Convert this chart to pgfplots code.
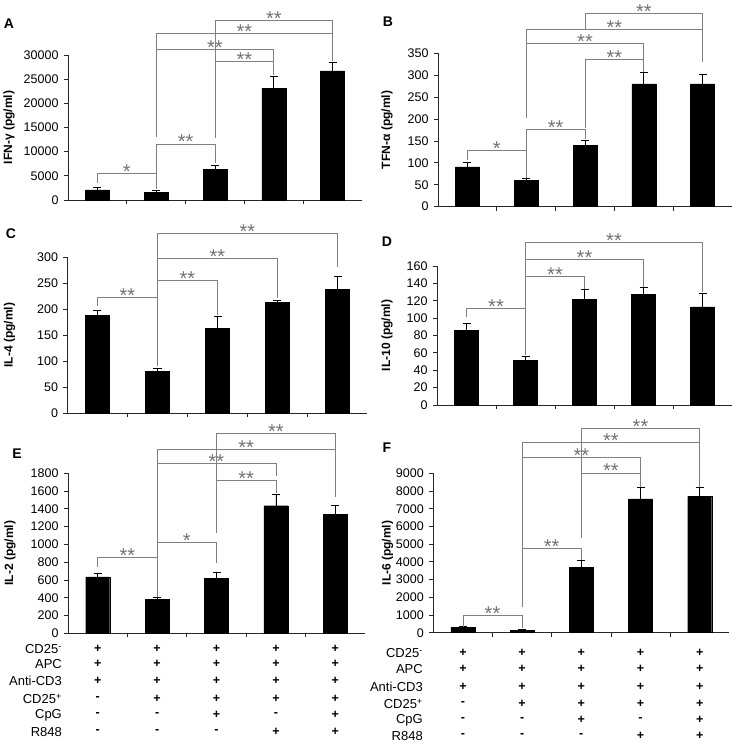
\documentclass[border=0pt]{standalone}
\usepackage{pgfplots}
\pgfplotsset{compat=1.18}
\usepackage{pgfplotstable}
\usepackage{fontspec}
\setmainfont{Liberation Sans}

\pgfplotstableread{
x y e
0 2100 450
1 1600 350
2 6400 750
3 23100 2450
4 26700 1800
}\tA
\pgfplotstableread{
x y e
0 91 10
1 60 4
2 140 12
3 280 26
4 280 23
}\tB
\pgfplotstableread{
x y e
0 188 10
1 80 6
2 163 23
3 213 4
4 238 25
}\tC
\pgfplotstableread{
x y e
0 86 8
1 51 4.5
2 122 11
3 127 8
4 113 16
}\tD
\pgfplotstableread{
x y e
0 635 40
1 380 25
2 615 75
3 1435 130
4 1340 105
}\tE
\pgfplotstableread{
x y e
0 300 40
1 150 40
2 3700 410
3 7550 630
4 7700 500
}\tF

\tikzset{
  brk/.style={draw=black!50, line width=0.7pt},
  star/.style={text=black!55, anchor=base, font=\fontsize{20}{20}\selectfont, inner sep=0pt, yshift=-5pt},
  rowlab/.style={anchor=east, font=\fontsize{13}{14}\selectfont, inner sep=0pt},
  sgn/.style={anchor=center, font=\fontsize{12.5}{14}\selectfont\bfseries, inner sep=0pt},
  letter/.style={font=\fontsize{14}{16}\selectfont\bfseries, inner sep=0pt},
}
\newcommand{\brk}[7]{%
  \draw[brk] (axis cs:#1,#4) -- (axis cs:#1,#3) -- (axis cs:#2,#3) -- (axis cs:#2,#5);
  \node[star] at (axis cs:#7,#3) {#6};}
\newcommand{\trow}[8]{%
  \node[rowlab] at (axis cs:#1,#2) {#3};
  \node[sgn] at (axis cs:0,#2) {#4};
  \node[sgn] at (axis cs:1,#2) {#5};
  \node[sgn] at (axis cs:2,#2) {#6};
  \node[sgn] at (axis cs:3,#2) {#7};
  \node[sgn] at (axis cs:4,#2) {#8};}

\pgfplotsset{
  panel/.style={
    scale only axis, anchor=south west,
    axis x line=bottom, axis y line=left,
    axis line style={-, black!85, line width=0.8pt},
    xmin=-0.5, xmax=4.5, ymin=0,
    xtick={0.5,1.5,2.5,3.5}, xticklabels={},
    tick align=outside, major tick length=4pt,
    tick style={black!85, line width=0.8pt},
    scaled y ticks=false,
    /pgf/number format/1000 sep={},
    /pgf/number format/assume math mode=true,
    tick label style={font=\fontsize{12.5}{14}\selectfont},
    yticklabel style={xshift=-2pt},
    every axis y label/.style={at={(axis description cs:#1,0.5)}, rotate=90, anchor=center, font=\fontsize{12}{14}\selectfont\bfseries},
    clip=false,
    ybar, bar width=24pt,
  },
  bars/.style={fill=black, draw=black, error bars/.cd, y dir=plus, y explicit,
    error bar style={black, line width=0.7pt},
    error mark options={rotate=90, mark size=4pt, line width=0.7pt, black}},
}

\begin{document}
\begin{tikzpicture}[x=1pt,y=1pt]
\path[use as bounding box] (0,0) rectangle (736,746);

% ---------- A ----------
\begin{axis}[panel=-0.2007, at={(68pt,546pt)}, width=294pt, height=145pt,
  ymax=30000, ytick={0,5000,...,30000}, ylabel={IFN-γ (pg/ml)}]
\addplot[bars] table[x=x,y=y,y error=e] {\tA};
\brk{0}{1}{5450}{3500}{2300}{*}{0.5}
\brk{1}{2}{11600}{5450}{7600}{**}{1.5}
\brk{2}{3}{28700}{12900}{25900}{**}{2.5}
\brk{1}{3}{31200}{13100}{28700}{**}{2}
\brk{1}{4}{34500}{31200}{28700}{**}{2.5}
\brk{2}{4}{37200}{28700}{34500}{**}{3}
\end{axis}

% ---------- B ----------
\begin{axis}[panel=-0.1735, at={(438pt,539.3pt)}, width=294pt, height=153.4pt,
  ymax=350, ytick={0,50,...,350}, ylabel={TFN-α (pg/ml)}]
\addplot[bars] table[x=x,y=y,y error=e] {\tB};
\brk{0}{1}{129}{106}{66}{*}{0.5}
\brk{1}{2}{176}{129}{154}{**}{1.5}
\brk{2}{3}{336}{179}{308}{**}{2.5}
\brk{1}{3}{373}{202}{336}{**}{2}
\brk{1}{4}{405}{373}{329}{**}{2.5}
\brk{2}{4}{440}{405}{405}{**}{3}
\end{axis}

% ---------- C ----------
\begin{axis}[panel=-0.193, at={(67.5pt,332.7pt)}, width=300pt, height=156pt,
  ymax=300, ytick={0,50,...,300}, ylabel={IL-4 (pg/ml)}]
\addplot[bars] table[x=x,y=y,y error=e] {\tC};
\brk{0}{1}{223}{206}{90}{**}{0.5}
\brk{1}{2}{256}{223}{189}{**}{1.5}
\brk{1}{3}{298}{256}{221}{**}{2}
\brk{1}{4}{346}{298}{282}{**}{2.5}
\end{axis}

% ---------- D ----------
\begin{axis}[panel=-0.1695, at={(437pt,341pt)}, width=295pt, height=139pt,
  ymax=160, ytick={0,20,...,160}, ylabel={IL-10 (pg/ml)}]
\addplot[bars] table[x=x,y=y,y error=e] {\tD};
\brk{0}{1}{111}{101.7}{57.5}{**}{0.5}
\brk{1}{2}{147.7}{111}{134}{**}{1.5}
\brk{1}{3}{167.7}{147.7}{136}{**}{2}
\brk{1}{4}{186.9}{167.7}{130.5}{**}{2.5}
\end{axis}

% ---------- E ----------
\begin{axis}[panel=-0.195, at={(68pt,112.7pt)}, width=297pt, height=160pt,
  ymax=1800, ytick={0,200,...,1800}, ylabel={IL-2 (pg/ml)}]
\addplot[bars] table[x=x,y=y,y error=e] {\tE};
\brk{0}{1}{851}{750}{410}{**}{0.5}
\brk{1}{2}{1024}{851}{787}{*}{1.5}
\brk{2}{3}{1717}{1125}{1575}{**}{2.5}
\brk{1}{3}{1912}{1024}{1770}{**}{2}
\brk{1}{4}{2070}{1912}{1530}{**}{2.5}
\brk{2}{4}{2250}{1717}{2070}{**}{3}
\trow{-0.6}{-177}{CD25\textsuperscript{-}}{+}{+}{+}{+}{+}
\trow{-0.6}{-345}{APC}{+}{+}{+}{+}{+}
\trow{-0.6}{-537}{Anti-CD3}{+}{+}{+}{+}{+}
\trow{-0.6}{-739}{CD25\textsuperscript{+}}{-}{+}{+}{+}{+}
\trow{-0.6}{-919}{CpG}{-}{-}{+}{-}{+}
\trow{-0.6}{-1110}{R848}{-}{-}{-}{+}{+}
\end{axis}

% ---------- F ----------
\begin{axis}[panel=-0.155, at={(433.3pt,113.3pt)}, width=296pt, height=159.4pt,
  ymax=9000, ytick={0,1000,...,9000}, ylabel={IL-6 (pg/ml)}]
\addplot[bars] table[x=x,y=y,y error=e] {\tF};
\brk{0}{1}{960}{340}{245}{**}{0.5}
\brk{1}{2}{4770}{1430}{4110}{**}{1.5}
\brk{2}{3}{9020}{5340}{8230}{**}{2.5}
\brk{1}{3}{9900}{4770}{9020}{**}{2}
\brk{1}{4}{10720}{9900}{8230}{**}{2.5}
\brk{2}{4}{11510}{9020}{10720}{**}{3}
\trow{-0.674}{-1146}{CD25\textsuperscript{-}}{+}{+}{+}{+}{+}
\trow{-0.674}{-2050}{APC}{+}{+}{+}{+}{+}
\trow{-0.674}{-3066}{Anti-CD3}{+}{+}{+}{+}{+}
\trow{-0.674}{-4026}{CD25\textsuperscript{+}}{-}{+}{+}{+}{+}
\trow{-0.674}{-4929}{CpG}{-}{-}{+}{-}{+}
\trow{-0.674}{-5832}{R848}{-}{-}{-}{+}{+}
\end{axis}

% panel letters
\node[letter] at (9,722) {A};
\node[letter] at (388,724) {B};
\node[letter] at (11,512) {C};
\node[letter] at (387,504) {D};
\node[letter] at (17,292) {E};
\node[letter] at (387,298) {F};
\end{tikzpicture}
\end{document}
